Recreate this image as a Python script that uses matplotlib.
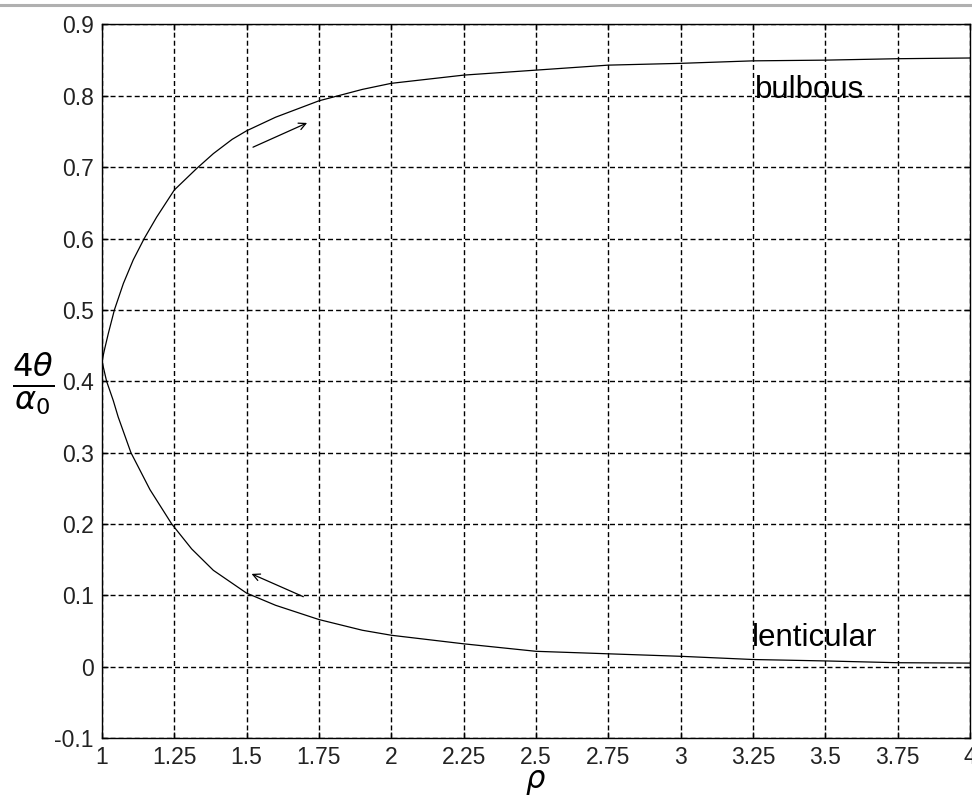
import matplotlib.pyplot as plt
from matplotlib.lines import Line2D

plt.rcParams['font.family'] = ['Liberation Sans', 'DejaVu Sans']
plt.rcParams['mathtext.fontset'] = 'dejavusans'

# bulbous branch: 4*theta/alpha_0 against rho
rho_up = [1.0, 1.008, 1.022, 1.043, 1.074, 1.108, 1.146, 1.189, 1.25, 1.327,
          1.385, 1.45, 1.5, 1.6, 1.75, 1.9, 2.0, 2.25, 2.5, 2.75, 3.0,
          3.25, 3.5, 3.75, 4.0]
val_up = [0.428, 0.443, 0.467, 0.5, 0.537, 0.570, 0.6, 0.630, 0.668, 0.698,
          0.719, 0.739, 0.751, 0.770, 0.793, 0.809, 0.8175, 0.829, 0.836,
          0.843, 0.8455, 0.849, 0.85, 0.852, 0.853]

# lenticular branch
rho_low = [1.0, 1.016, 1.039, 1.056, 1.1, 1.166, 1.241, 1.31, 1.385, 1.5,
           1.6, 1.75, 1.9, 2.0, 2.25, 2.5, 2.75, 3.0, 3.25, 3.5, 3.75, 4.0]
val_low = [0.428, 0.4, 0.373, 0.35, 0.3, 0.248, 0.2, 0.165, 0.135, 0.103,
           0.086, 0.066, 0.051, 0.044, 0.032, 0.0215, 0.018, 0.0145, 0.01,
           0.008, 0.0055, 0.005]

xticks = [1, 1.25, 1.5, 1.75, 2, 2.25, 2.5, 2.75, 3, 3.25, 3.5, 3.75, 4]
xticklabels = ['1', '1.25', '1.5', '1.75', '2', '2.25', '2.5', '2.75',
               '3', '3.25', '3.5', '3.75', '4']
yticks = [-0.1, 0, 0.1, 0.2, 0.3, 0.4, 0.5, 0.6, 0.7, 0.8, 0.9]
yticklabels = ['-0.1', '0', '0.1', '0.2', '0.3', '0.4', '0.5', '0.6',
               '0.7', '0.8', '0.9']

fig = plt.figure(figsize=(9.72, 8.02), dpi=100)
ax = fig.add_axes([0.1049, 0.0798, 0.893, 0.8897])

ax.plot(rho_up, val_up, color='black', lw=0.9)
ax.plot(rho_low, val_low, color='black', lw=0.9)

ax.set_xlim(1, 4)
ax.set_ylim(-0.1, 0.9)
ax.set_xticks(xticks)
ax.set_xticklabels(xticklabels)
ax.set_yticks(yticks)
ax.set_yticklabels(yticklabels)
ax.tick_params(direction='in', length=4, width=1, top=True, right=True,
               labelsize=16.5, labelcolor='#222222', pad=6)
for sp in ax.spines.values():
    sp.set_linewidth(1.0)
ax.grid(True, color='black', lw=1.0, linestyle=(0, (3.6, 2.2)))

# direction arrows along the branches
ax.annotate('', xy=(1.709, 0.762), xytext=(1.522, 0.728),
            arrowprops=dict(arrowstyle='->,head_length=0.5,head_width=0.25',
                            color='black', lw=0.9, shrinkA=0, shrinkB=0))
ax.annotate('', xy=(1.517, 0.130), xytext=(1.696, 0.098),
            arrowprops=dict(arrowstyle='->,head_length=0.5,head_width=0.25',
                            color='black', lw=0.9, shrinkA=0, shrinkB=0))

ax.text(3.257, 0.808, 'bulbous', fontsize=22.5, ha='left', va='center')
ax.text(3.245, 0.040, 'lenticular', fontsize=22.5, ha='left', va='center')

ax.set_xlabel(r'$\rho$', fontsize=22, labelpad=-2)
fig.text(33 / 972, 1 - 384 / 802, r'$\frac{4\theta}{\alpha_0}$',
         fontsize=33, ha='center', va='center')

# thin gray rule across the top edge
fig.add_artist(Line2D([0, 1], [1 - 4.5 / 802] * 2, transform=fig.transFigure,
                      color='#b0b0b0', lw=2.2))

fig.savefig('out.png', dpi=100)
